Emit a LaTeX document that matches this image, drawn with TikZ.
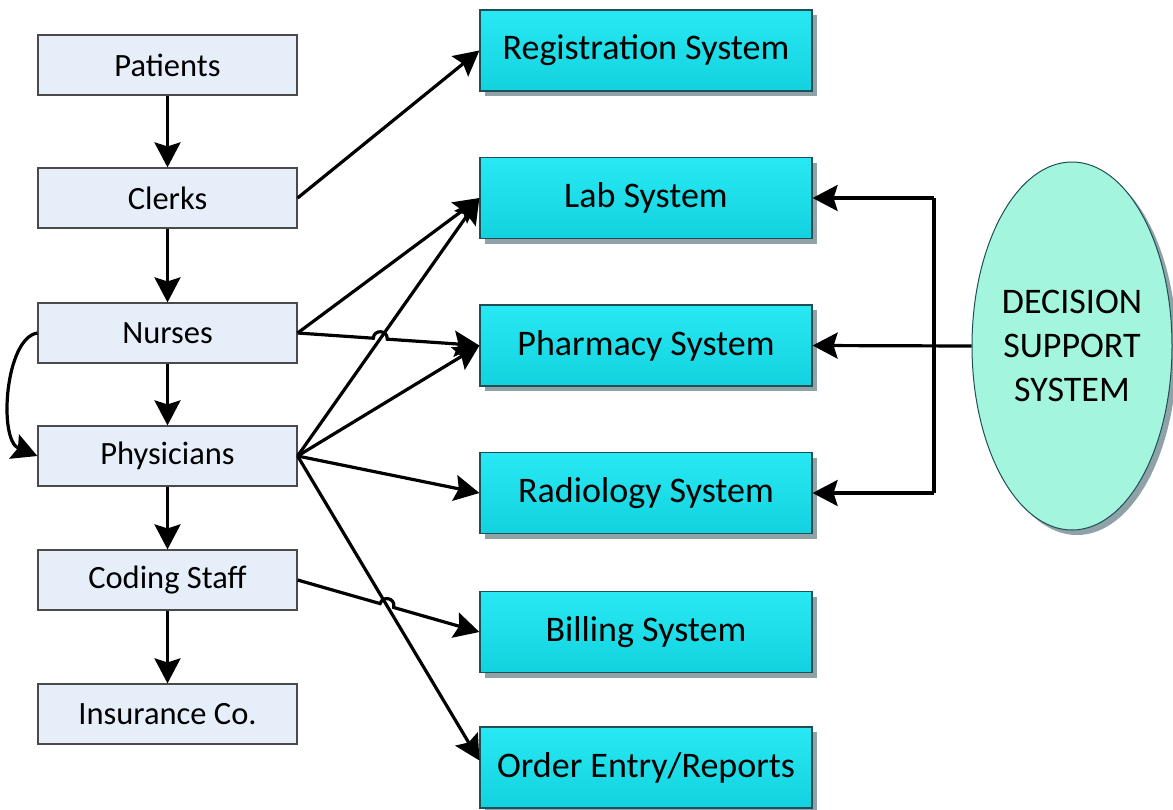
\documentclass[tikz,border=0pt]{standalone}
\usepackage{fontspec}
\setmainfont{Carlito}
\usetikzlibrary{arrows.meta,shadows,calc,intersections,shapes.geometric}
\definecolor{lbfill}{HTML}{E6EFF9}
\definecolor{lbdraw}{HTML}{4A4A4A}
\definecolor{cytop}{HTML}{28E9F3}
\definecolor{cybot}{HTML}{11D2DE}
\definecolor{cydraw}{HTML}{1F4F55}
\definecolor{shcol}{HTML}{8EA2A8}
\definecolor{dssfill}{HTML}{A4F5DE}
\tikzset{
  leftbox/.style={draw=lbdraw, line width=1.2pt, fill=lbfill, minimum width=259pt, minimum height=60pt, inner sep=0pt, font=\fontsize{32.5}{38}\selectfont},
  sysbox/.style={draw=cydraw, line width=1.2pt, top color=cytop, bottom color=cybot, minimum width=332pt, minimum height=81pt, inner sep=0pt, font=\fontsize{36}{42}\selectfont,
    general shadow={fill=shcol, shadow xshift=5pt, shadow yshift=-5pt}},
  arr/.style={line width=3.2pt, -{Stealth[length=25pt,width=26pt,inset=4pt]}},
  plain/.style={line width=3.2pt}
}
\begin{document}
\begin{tikzpicture}[x=1pt,y=-1pt]
\useasboundingbox (0,0) rectangle (1173,809);
% left column
\node[leftbox] (pat) at (167.5,65) {Patients};
\node[leftbox] (clk) at (167.5,198) {Clerks};
\node[leftbox] (nur) at (167.5,333) {Nurses};
\node[leftbox] (phy) at (167.5,456) {Physicians};
\node[leftbox] (cod) at (167.5,580) {Coding Staff};
\node[leftbox] (ins) at (167.5,714) {Insurance Co.};
% systems
\node[sysbox] (reg) at (646,50.5) {Registration System};
\node[sysbox] (lab) at (646,198) {Lab System};
\node[sysbox] (pha) at (646,345.5) {Pharmacy System};
\node[sysbox] (rad) at (646,493) {Radiology System};
\node[sysbox] (bil) at (646,632) {Billing System};
\node[sysbox] (ord) at (646,767.5) {Order Entry/Reports};
% DSS
\node[ellipse, draw=cydraw, line width=1pt, fill=dssfill, minimum width=200pt, minimum height=368pt, inner sep=0pt,
  general shadow={fill=shcol, shadow xshift=5pt, shadow yshift=-5pt},
  align=center, font=\fontsize{36}{44}\selectfont] (dss) at (1072,346) {DECISION\\SUPPORT\\SYSTEM};
% vertical flow
\draw[arr] (pat.south) -- (clk.north);
\draw[arr] (clk.south) -- (nur.north);
\draw[arr] (nur.south) -- (phy.north);
\draw[arr] (phy.south) -- (cod.north);
\draw[arr] (cod.south) -- (ins.north);
\draw[arr] (nur.west) .. controls (5,338) and (-2,440) .. (phy.west);
% to systems
\coordinate (ordin) at ($(ord.west)+(0,-7)$);
\draw[arr] (clk.east) -- (reg.west);
\draw[arr] (nur.east) -- (lab.west);
\draw[arr, name path=pl] (phy.east) -- (lab.west);
\draw[arr] (phy.east) -- (pha.west);
\draw[arr] (phy.east) -- (rad.west);
\draw[arr, name path=po] (phy.east) -- (ordin);
\path[name path=nl] (nur.east) -- (pha.west);
\path[name path=cl] (cod.east) -- (bil.west);
\path[name intersections={of=pl and nl, by=xa}];
\path[name intersections={of=po and cl, by=xb}];
\draw[arr] (nur.east) -- ($(xa)!7pt!(nur.east)$) to[bend left=90,looseness=1.7] ($(xa)!7pt!(pha.west)$) -- (pha.west);
\draw[arr] (cod.east) -- ($(xb)!7pt!(cod.east)$) to[bend left=90,looseness=1.7] ($(xb)!7pt!(bil.west)$) -- (bil.west);
% DSS connectors
\coordinate (bt) at (934,198);
\coordinate (bb) at (934,493);
\draw[plain] (bt) -- (bb);
\draw[arr] (bt) -- (lab.east);
\draw[arr] (bb) -- (rad.east);
\draw[arr] (dss.west) -- (pha.east);
\end{tikzpicture}
\end{document}
